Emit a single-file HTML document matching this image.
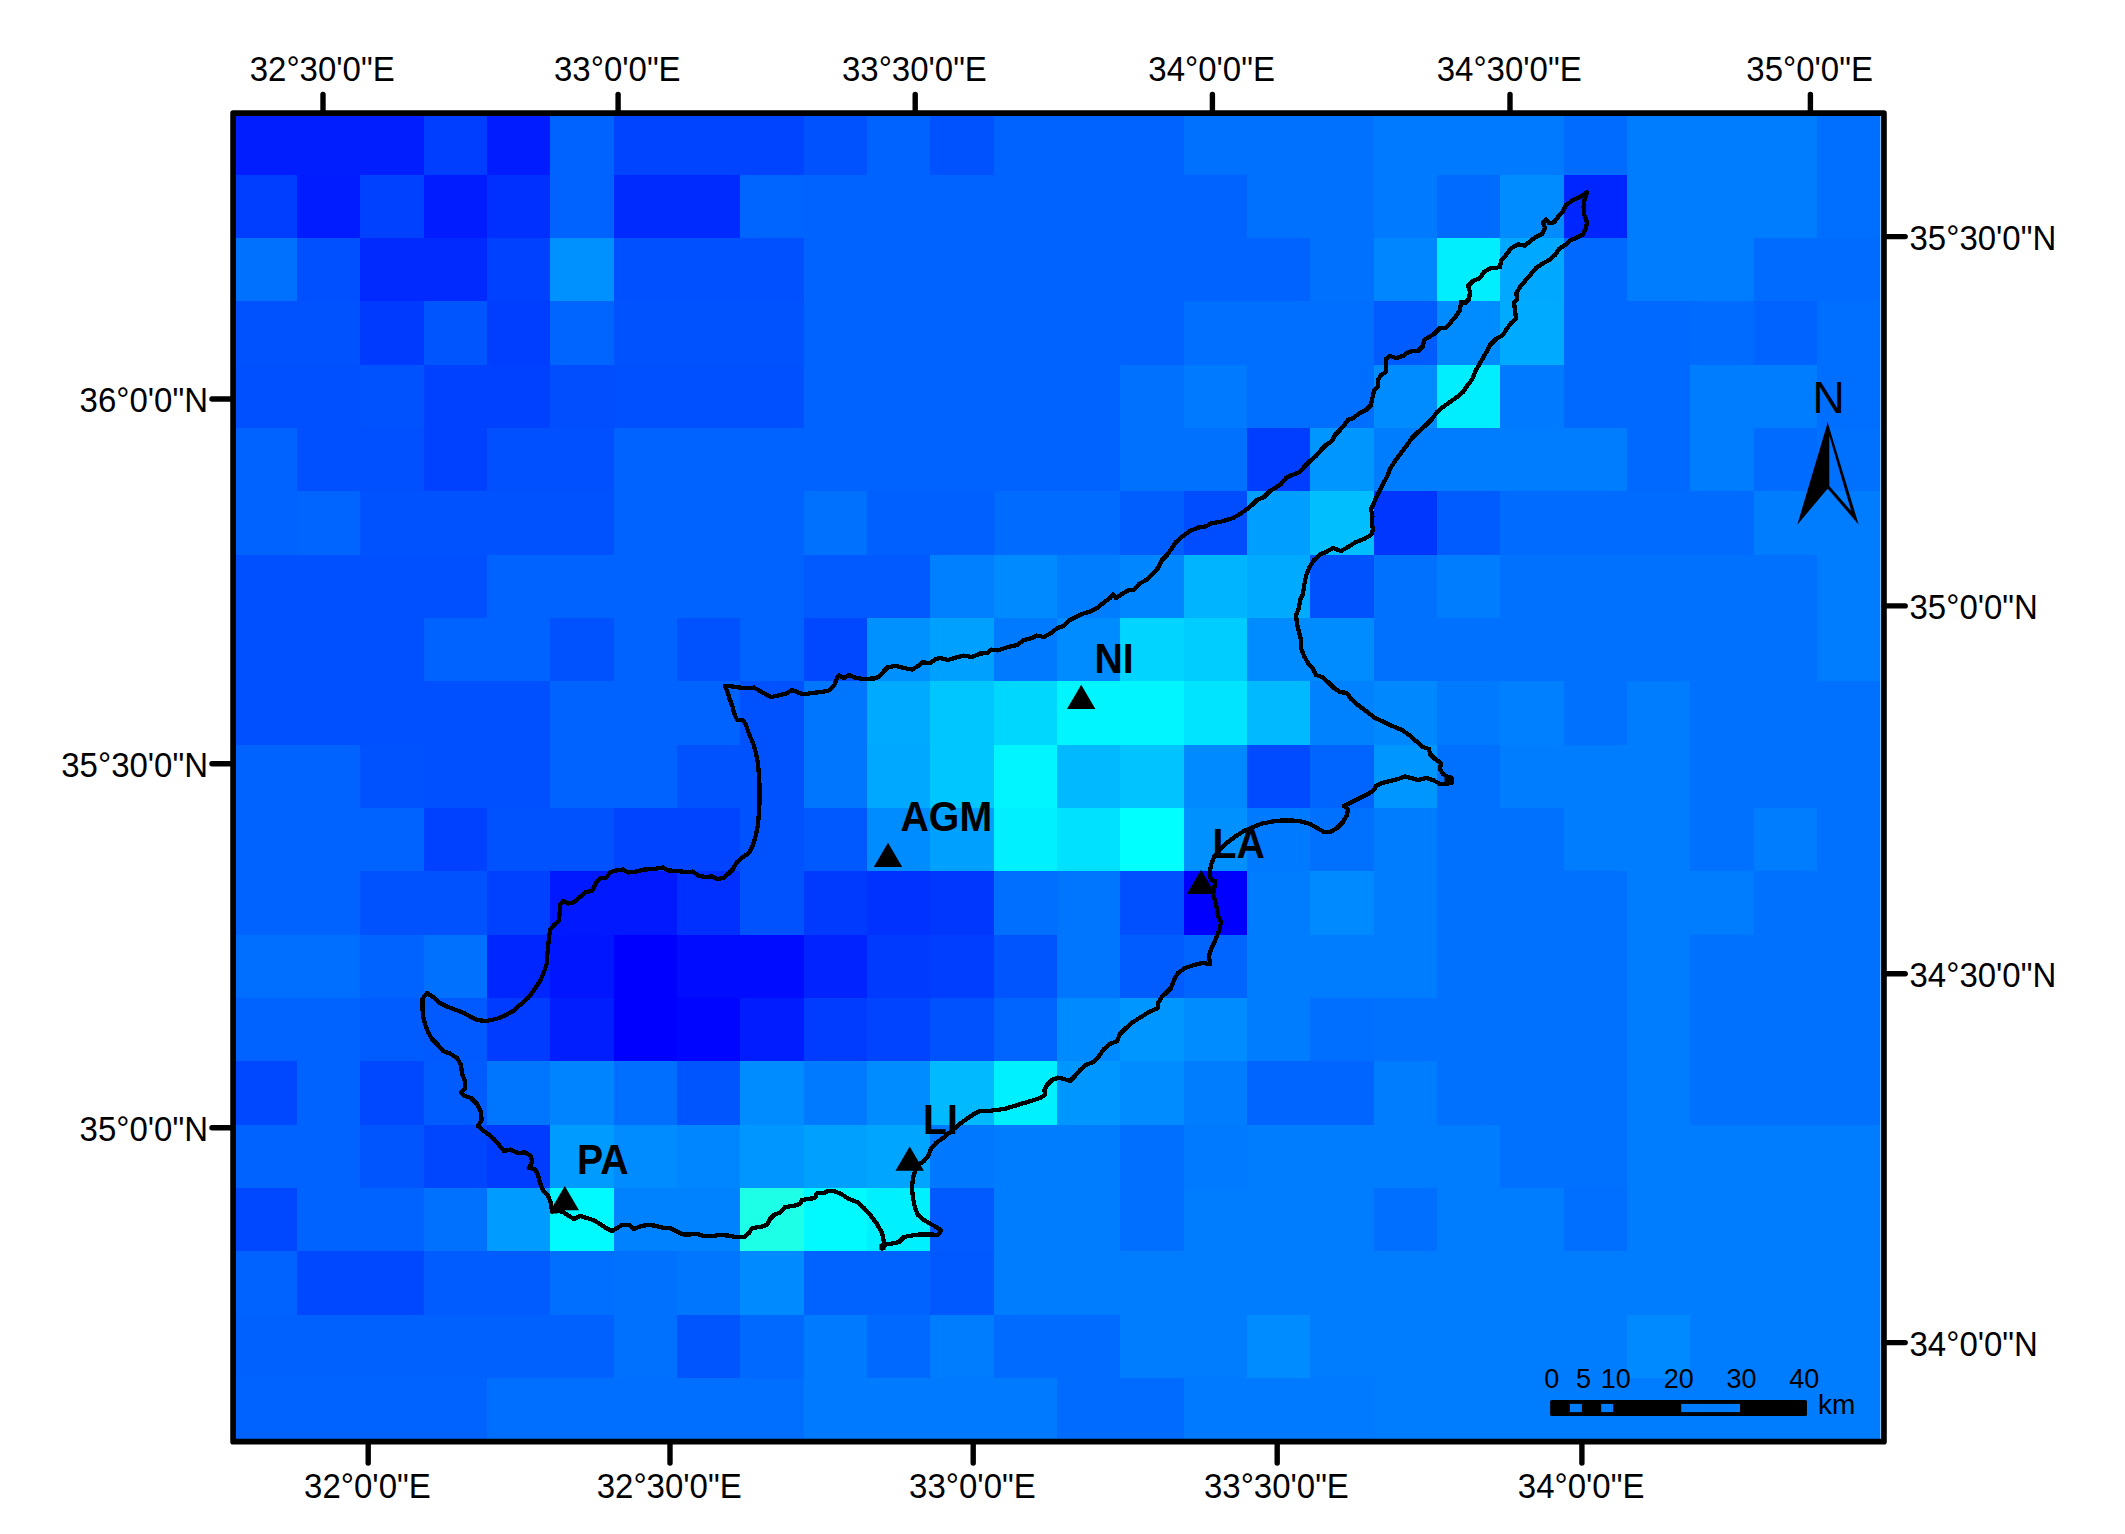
<!DOCTYPE html><html><head><meta charset="utf-8"><title>Map</title>
<style>html,body{margin:0;padding:0;background:#fff}body{width:2125px;height:1534px;overflow:hidden}svg{display:block}text{font-family:"Liberation Sans",sans-serif;fill:#000}.b{font-weight:bold}</style></head><body>
<svg width="2125" height="1534" viewBox="0 0 2125 1534">
<rect width="2125" height="1534" fill="#fff"/>
<g shape-rendering="crispEdges">
<rect x="233.60" y="111.40" width="190.60" height="63.93" fill="#001eff"/>
<rect x="423.60" y="111.40" width="63.93" height="63.93" fill="#003eff"/>
<rect x="486.93" y="111.40" width="63.93" height="63.93" fill="#001cff"/>
<rect x="550.26" y="111.40" width="63.93" height="63.93" fill="#0062ff"/>
<rect x="613.60" y="111.40" width="190.60" height="63.93" fill="#0044ff"/>
<rect x="803.60" y="111.40" width="63.93" height="63.93" fill="#0052ff"/>
<rect x="866.93" y="111.40" width="63.93" height="63.93" fill="#0062ff"/>
<rect x="930.26" y="111.40" width="63.93" height="63.93" fill="#0052ff"/>
<rect x="993.60" y="111.40" width="190.60" height="63.93" fill="#0062ff"/>
<rect x="1183.60" y="111.40" width="190.60" height="63.93" fill="#0070ff"/>
<rect x="1373.59" y="111.40" width="190.60" height="63.93" fill="#007aff"/>
<rect x="1563.59" y="111.40" width="63.93" height="63.93" fill="#006cff"/>
<rect x="1626.93" y="111.40" width="190.60" height="63.93" fill="#007dff"/>
<rect x="1816.92" y="111.40" width="63.93" height="63.93" fill="#006eff"/>
<rect x="233.60" y="174.73" width="63.93" height="63.93" fill="#003eff"/>
<rect x="296.93" y="174.73" width="63.93" height="63.93" fill="#001cff"/>
<rect x="360.27" y="174.73" width="63.93" height="63.93" fill="#0041ff"/>
<rect x="423.60" y="174.73" width="63.93" height="63.93" fill="#001cff"/>
<rect x="486.93" y="174.73" width="63.93" height="63.93" fill="#0030ff"/>
<rect x="550.26" y="174.73" width="63.93" height="63.93" fill="#0062ff"/>
<rect x="613.60" y="174.73" width="127.27" height="63.93" fill="#002bff"/>
<rect x="740.26" y="174.73" width="63.93" height="63.93" fill="#0064ff"/>
<rect x="803.60" y="174.73" width="443.93" height="63.93" fill="#0062ff"/>
<rect x="1246.93" y="174.73" width="127.27" height="63.93" fill="#0070ff"/>
<rect x="1373.59" y="174.73" width="63.93" height="63.93" fill="#007aff"/>
<rect x="1436.93" y="174.73" width="63.93" height="63.93" fill="#006cff"/>
<rect x="1500.26" y="174.73" width="63.93" height="63.93" fill="#008cff"/>
<rect x="1563.59" y="174.73" width="63.93" height="63.93" fill="#0026ff"/>
<rect x="1626.93" y="174.73" width="190.60" height="63.93" fill="#007dff"/>
<rect x="1816.92" y="174.73" width="63.93" height="63.93" fill="#006eff"/>
<rect x="233.60" y="238.07" width="63.93" height="63.93" fill="#0070ff"/>
<rect x="296.93" y="238.07" width="63.93" height="63.93" fill="#0050ff"/>
<rect x="360.27" y="238.07" width="127.27" height="63.93" fill="#002aff"/>
<rect x="486.93" y="238.07" width="63.93" height="63.93" fill="#0041ff"/>
<rect x="550.26" y="238.07" width="63.93" height="63.93" fill="#0091ff"/>
<rect x="613.60" y="238.07" width="190.60" height="63.93" fill="#0050ff"/>
<rect x="803.60" y="238.07" width="507.26" height="63.93" fill="#0062ff"/>
<rect x="1310.26" y="238.07" width="63.93" height="63.93" fill="#0070ff"/>
<rect x="1373.59" y="238.07" width="63.93" height="63.93" fill="#0087ff"/>
<rect x="1436.93" y="238.07" width="63.93" height="63.93" fill="#00eeff"/>
<rect x="1500.26" y="238.07" width="63.93" height="63.93" fill="#00a8ff"/>
<rect x="1563.59" y="238.07" width="63.93" height="63.93" fill="#0069ff"/>
<rect x="1626.93" y="238.07" width="127.27" height="63.93" fill="#007dff"/>
<rect x="1753.59" y="238.07" width="127.27" height="63.93" fill="#006cff"/>
<rect x="233.60" y="301.40" width="127.27" height="63.93" fill="#0052ff"/>
<rect x="360.27" y="301.40" width="63.93" height="63.93" fill="#003aff"/>
<rect x="423.60" y="301.40" width="63.93" height="63.93" fill="#0055ff"/>
<rect x="486.93" y="301.40" width="63.93" height="63.93" fill="#003eff"/>
<rect x="550.26" y="301.40" width="63.93" height="63.93" fill="#0064ff"/>
<rect x="613.60" y="301.40" width="190.60" height="63.93" fill="#0052ff"/>
<rect x="803.60" y="301.40" width="380.60" height="63.93" fill="#0062ff"/>
<rect x="1183.60" y="301.40" width="190.60" height="63.93" fill="#006eff"/>
<rect x="1373.59" y="301.40" width="63.93" height="63.93" fill="#005cff"/>
<rect x="1436.93" y="301.40" width="63.93" height="63.93" fill="#008cff"/>
<rect x="1500.26" y="301.40" width="63.93" height="63.93" fill="#00aaff"/>
<rect x="1563.59" y="301.40" width="127.27" height="63.93" fill="#0069ff"/>
<rect x="1690.26" y="301.40" width="63.93" height="63.93" fill="#006cff"/>
<rect x="1753.59" y="301.40" width="63.93" height="63.93" fill="#0062ff"/>
<rect x="1816.92" y="301.40" width="63.93" height="63.93" fill="#006eff"/>
<rect x="233.60" y="364.73" width="127.27" height="63.93" fill="#0050ff"/>
<rect x="360.27" y="364.73" width="63.93" height="63.93" fill="#0052ff"/>
<rect x="423.60" y="364.73" width="127.27" height="63.93" fill="#0041ff"/>
<rect x="550.26" y="364.73" width="63.93" height="63.93" fill="#004eff"/>
<rect x="613.60" y="364.73" width="190.60" height="63.93" fill="#0050ff"/>
<rect x="803.60" y="364.73" width="317.26" height="63.93" fill="#0062ff"/>
<rect x="1120.26" y="364.73" width="63.93" height="63.93" fill="#0070ff"/>
<rect x="1183.60" y="364.73" width="63.93" height="63.93" fill="#007aff"/>
<rect x="1246.93" y="364.73" width="127.27" height="63.93" fill="#006eff"/>
<rect x="1373.59" y="364.73" width="63.93" height="63.93" fill="#008cff"/>
<rect x="1436.93" y="364.73" width="63.93" height="63.93" fill="#00eeff"/>
<rect x="1500.26" y="364.73" width="63.93" height="63.93" fill="#007aff"/>
<rect x="1563.59" y="364.73" width="127.27" height="63.93" fill="#0069ff"/>
<rect x="1690.26" y="364.73" width="127.27" height="63.93" fill="#007dff"/>
<rect x="1816.92" y="364.73" width="63.93" height="63.93" fill="#006eff"/>
<rect x="233.60" y="428.06" width="63.93" height="63.93" fill="#0062ff"/>
<rect x="296.93" y="428.06" width="127.27" height="63.93" fill="#0050ff"/>
<rect x="423.60" y="428.06" width="63.93" height="63.93" fill="#0041ff"/>
<rect x="486.93" y="428.06" width="127.27" height="63.93" fill="#0050ff"/>
<rect x="613.60" y="428.06" width="507.26" height="63.93" fill="#0062ff"/>
<rect x="1120.26" y="428.06" width="127.27" height="63.93" fill="#0070ff"/>
<rect x="1246.93" y="428.06" width="63.93" height="63.93" fill="#003eff"/>
<rect x="1310.26" y="428.06" width="63.93" height="63.93" fill="#0096ff"/>
<rect x="1373.59" y="428.06" width="253.93" height="63.93" fill="#007dff"/>
<rect x="1626.93" y="428.06" width="63.93" height="63.93" fill="#0069ff"/>
<rect x="1690.26" y="428.06" width="63.93" height="63.93" fill="#007dff"/>
<rect x="1753.59" y="428.06" width="63.93" height="63.93" fill="#006cff"/>
<rect x="1816.92" y="428.06" width="63.93" height="63.93" fill="#0070ff"/>
<rect x="233.60" y="491.40" width="63.93" height="63.93" fill="#0062ff"/>
<rect x="296.93" y="491.40" width="63.93" height="63.93" fill="#0064ff"/>
<rect x="360.27" y="491.40" width="253.93" height="63.93" fill="#0052ff"/>
<rect x="613.60" y="491.40" width="190.60" height="63.93" fill="#0062ff"/>
<rect x="803.60" y="491.40" width="63.93" height="63.93" fill="#0070ff"/>
<rect x="866.93" y="491.40" width="127.27" height="63.93" fill="#005fff"/>
<rect x="993.60" y="491.40" width="127.27" height="63.93" fill="#006cff"/>
<rect x="1120.26" y="491.40" width="63.93" height="63.93" fill="#005eff"/>
<rect x="1183.60" y="491.40" width="63.93" height="63.93" fill="#004cff"/>
<rect x="1246.93" y="491.40" width="63.93" height="63.93" fill="#009eff"/>
<rect x="1310.26" y="491.40" width="63.93" height="63.93" fill="#00beff"/>
<rect x="1373.59" y="491.40" width="63.93" height="63.93" fill="#0037ff"/>
<rect x="1436.93" y="491.40" width="63.93" height="63.93" fill="#005cff"/>
<rect x="1500.26" y="491.40" width="253.93" height="63.93" fill="#006cff"/>
<rect x="1753.59" y="491.40" width="127.27" height="63.93" fill="#007dff"/>
<rect x="233.60" y="554.73" width="253.93" height="63.93" fill="#0050ff"/>
<rect x="486.93" y="554.73" width="317.26" height="63.93" fill="#0062ff"/>
<rect x="803.60" y="554.73" width="127.27" height="63.93" fill="#005aff"/>
<rect x="930.26" y="554.73" width="63.93" height="63.93" fill="#0080ff"/>
<rect x="993.60" y="554.73" width="63.93" height="63.93" fill="#008aff"/>
<rect x="1056.93" y="554.73" width="63.93" height="63.93" fill="#007dff"/>
<rect x="1120.26" y="554.73" width="63.93" height="63.93" fill="#0087ff"/>
<rect x="1183.60" y="554.73" width="63.93" height="63.93" fill="#00b4ff"/>
<rect x="1246.93" y="554.73" width="63.93" height="63.93" fill="#00aaff"/>
<rect x="1310.26" y="554.73" width="63.93" height="63.93" fill="#0052ff"/>
<rect x="1373.59" y="554.73" width="63.93" height="63.93" fill="#0070ff"/>
<rect x="1436.93" y="554.73" width="63.93" height="63.93" fill="#007dff"/>
<rect x="1500.26" y="554.73" width="317.26" height="63.93" fill="#0070ff"/>
<rect x="1816.92" y="554.73" width="63.93" height="63.93" fill="#007dff"/>
<rect x="233.60" y="618.06" width="190.60" height="63.93" fill="#0050ff"/>
<rect x="423.60" y="618.06" width="127.27" height="63.93" fill="#0062ff"/>
<rect x="550.26" y="618.06" width="63.93" height="63.93" fill="#0052ff"/>
<rect x="613.60" y="618.06" width="63.93" height="63.93" fill="#0062ff"/>
<rect x="676.93" y="618.06" width="63.93" height="63.93" fill="#0052ff"/>
<rect x="740.26" y="618.06" width="63.93" height="63.93" fill="#0062ff"/>
<rect x="803.60" y="618.06" width="63.93" height="63.93" fill="#0048ff"/>
<rect x="866.93" y="618.06" width="63.93" height="63.93" fill="#0091ff"/>
<rect x="930.26" y="618.06" width="63.93" height="63.93" fill="#00a0ff"/>
<rect x="993.60" y="618.06" width="63.93" height="63.93" fill="#007aff"/>
<rect x="1056.93" y="618.06" width="63.93" height="63.93" fill="#008cff"/>
<rect x="1120.26" y="618.06" width="63.93" height="63.93" fill="#00d4ff"/>
<rect x="1183.60" y="618.06" width="63.93" height="63.93" fill="#00cdff"/>
<rect x="1246.93" y="618.06" width="127.27" height="63.93" fill="#008cff"/>
<rect x="1373.59" y="618.06" width="443.93" height="63.93" fill="#0070ff"/>
<rect x="1816.92" y="618.06" width="63.93" height="63.93" fill="#007dff"/>
<rect x="233.60" y="681.40" width="317.26" height="63.93" fill="#0050ff"/>
<rect x="550.26" y="681.40" width="190.60" height="63.93" fill="#0062ff"/>
<rect x="740.26" y="681.40" width="63.93" height="63.93" fill="#0052ff"/>
<rect x="803.60" y="681.40" width="63.93" height="63.93" fill="#0076ff"/>
<rect x="866.93" y="681.40" width="63.93" height="63.93" fill="#00aaff"/>
<rect x="930.26" y="681.40" width="63.93" height="63.93" fill="#00c6ff"/>
<rect x="993.60" y="681.40" width="63.93" height="63.93" fill="#00d7ff"/>
<rect x="1056.93" y="681.40" width="127.27" height="63.93" fill="#00f5ff"/>
<rect x="1183.60" y="681.40" width="63.93" height="63.93" fill="#00e4ff"/>
<rect x="1246.93" y="681.40" width="63.93" height="63.93" fill="#00b9ff"/>
<rect x="1310.26" y="681.40" width="63.93" height="63.93" fill="#0082ff"/>
<rect x="1373.59" y="681.40" width="63.93" height="63.93" fill="#0088ff"/>
<rect x="1436.93" y="681.40" width="63.93" height="63.93" fill="#007aff"/>
<rect x="1500.26" y="681.40" width="63.93" height="63.93" fill="#0080ff"/>
<rect x="1563.59" y="681.40" width="63.93" height="63.93" fill="#0070ff"/>
<rect x="1626.93" y="681.40" width="63.93" height="63.93" fill="#007dff"/>
<rect x="1690.26" y="681.40" width="190.60" height="63.93" fill="#0070ff"/>
<rect x="233.60" y="744.73" width="127.27" height="63.93" fill="#0062ff"/>
<rect x="360.27" y="744.73" width="63.93" height="63.93" fill="#0052ff"/>
<rect x="423.60" y="744.73" width="127.27" height="63.93" fill="#0050ff"/>
<rect x="550.26" y="744.73" width="127.27" height="63.93" fill="#0062ff"/>
<rect x="676.93" y="744.73" width="127.27" height="63.93" fill="#0052ff"/>
<rect x="803.60" y="744.73" width="63.93" height="63.93" fill="#0076ff"/>
<rect x="866.93" y="744.73" width="63.93" height="63.93" fill="#00a8ff"/>
<rect x="930.26" y="744.73" width="63.93" height="63.93" fill="#00c6ff"/>
<rect x="993.60" y="744.73" width="63.93" height="63.93" fill="#00f5ff"/>
<rect x="1056.93" y="744.73" width="63.93" height="63.93" fill="#00b9ff"/>
<rect x="1120.26" y="744.73" width="63.93" height="63.93" fill="#00c3ff"/>
<rect x="1183.60" y="744.73" width="63.93" height="63.93" fill="#008aff"/>
<rect x="1246.93" y="744.73" width="63.93" height="63.93" fill="#004bff"/>
<rect x="1310.26" y="744.73" width="63.93" height="63.93" fill="#0064ff"/>
<rect x="1373.59" y="744.73" width="63.93" height="63.93" fill="#0096ff"/>
<rect x="1436.93" y="744.73" width="63.93" height="63.93" fill="#0070ff"/>
<rect x="1500.26" y="744.73" width="190.60" height="63.93" fill="#007dff"/>
<rect x="1690.26" y="744.73" width="190.60" height="63.93" fill="#0070ff"/>
<rect x="233.60" y="808.06" width="190.60" height="63.93" fill="#0062ff"/>
<rect x="423.60" y="808.06" width="63.93" height="63.93" fill="#0041ff"/>
<rect x="486.93" y="808.06" width="127.27" height="63.93" fill="#0052ff"/>
<rect x="613.60" y="808.06" width="127.27" height="63.93" fill="#0044ff"/>
<rect x="740.26" y="808.06" width="63.93" height="63.93" fill="#0052ff"/>
<rect x="803.60" y="808.06" width="63.93" height="63.93" fill="#0058ff"/>
<rect x="866.93" y="808.06" width="63.93" height="63.93" fill="#008cff"/>
<rect x="930.26" y="808.06" width="63.93" height="63.93" fill="#00a0ff"/>
<rect x="993.60" y="808.06" width="63.93" height="63.93" fill="#00f0ff"/>
<rect x="1056.93" y="808.06" width="63.93" height="63.93" fill="#00e1ff"/>
<rect x="1120.26" y="808.06" width="63.93" height="63.93" fill="#00ffff"/>
<rect x="1183.60" y="808.06" width="63.93" height="63.93" fill="#0091ff"/>
<rect x="1246.93" y="808.06" width="63.93" height="63.93" fill="#007aff"/>
<rect x="1310.26" y="808.06" width="63.93" height="63.93" fill="#0070ff"/>
<rect x="1373.59" y="808.06" width="63.93" height="63.93" fill="#007dff"/>
<rect x="1436.93" y="808.06" width="127.27" height="63.93" fill="#0070ff"/>
<rect x="1563.59" y="808.06" width="127.27" height="63.93" fill="#007dff"/>
<rect x="1690.26" y="808.06" width="63.93" height="63.93" fill="#0070ff"/>
<rect x="1753.59" y="808.06" width="63.93" height="63.93" fill="#007dff"/>
<rect x="1816.92" y="808.06" width="63.93" height="63.93" fill="#0070ff"/>
<rect x="233.60" y="871.40" width="127.27" height="63.93" fill="#0062ff"/>
<rect x="360.27" y="871.40" width="127.27" height="63.93" fill="#0052ff"/>
<rect x="486.93" y="871.40" width="63.93" height="63.93" fill="#0041ff"/>
<rect x="550.26" y="871.40" width="127.27" height="63.93" fill="#0019ff"/>
<rect x="676.93" y="871.40" width="63.93" height="63.93" fill="#0030ff"/>
<rect x="740.26" y="871.40" width="63.93" height="63.93" fill="#0052ff"/>
<rect x="803.60" y="871.40" width="63.93" height="63.93" fill="#003aff"/>
<rect x="866.93" y="871.40" width="63.93" height="63.93" fill="#0032ff"/>
<rect x="930.26" y="871.40" width="63.93" height="63.93" fill="#0037ff"/>
<rect x="993.60" y="871.40" width="63.93" height="63.93" fill="#006eff"/>
<rect x="1056.93" y="871.40" width="63.93" height="63.93" fill="#0076ff"/>
<rect x="1120.26" y="871.40" width="63.93" height="63.93" fill="#0050ff"/>
<rect x="1183.60" y="871.40" width="63.93" height="63.93" fill="#0000ff"/>
<rect x="1246.93" y="871.40" width="63.93" height="63.93" fill="#007dff"/>
<rect x="1310.26" y="871.40" width="63.93" height="63.93" fill="#008aff"/>
<rect x="1373.59" y="871.40" width="63.93" height="63.93" fill="#007dff"/>
<rect x="1436.93" y="871.40" width="190.60" height="63.93" fill="#0070ff"/>
<rect x="1626.93" y="871.40" width="127.27" height="63.93" fill="#007dff"/>
<rect x="1753.59" y="871.40" width="127.27" height="63.93" fill="#0070ff"/>
<rect x="233.60" y="934.73" width="127.27" height="63.93" fill="#006eff"/>
<rect x="360.27" y="934.73" width="63.93" height="63.93" fill="#0062ff"/>
<rect x="423.60" y="934.73" width="63.93" height="63.93" fill="#0070ff"/>
<rect x="486.93" y="934.73" width="63.93" height="63.93" fill="#0026ff"/>
<rect x="550.26" y="934.73" width="63.93" height="63.93" fill="#0016ff"/>
<rect x="613.60" y="934.73" width="63.93" height="63.93" fill="#0000ff"/>
<rect x="676.93" y="934.73" width="127.27" height="63.93" fill="#000cff"/>
<rect x="803.60" y="934.73" width="63.93" height="63.93" fill="#0023ff"/>
<rect x="866.93" y="934.73" width="63.93" height="63.93" fill="#003aff"/>
<rect x="930.26" y="934.73" width="63.93" height="63.93" fill="#003eff"/>
<rect x="993.60" y="934.73" width="63.93" height="63.93" fill="#0055ff"/>
<rect x="1056.93" y="934.73" width="63.93" height="63.93" fill="#0076ff"/>
<rect x="1120.26" y="934.73" width="63.93" height="63.93" fill="#005cff"/>
<rect x="1183.60" y="934.73" width="63.93" height="63.93" fill="#0064ff"/>
<rect x="1246.93" y="934.73" width="190.60" height="63.93" fill="#007dff"/>
<rect x="1436.93" y="934.73" width="190.60" height="63.93" fill="#0070ff"/>
<rect x="1626.93" y="934.73" width="63.93" height="63.93" fill="#007dff"/>
<rect x="1690.26" y="934.73" width="190.60" height="63.93" fill="#0070ff"/>
<rect x="233.60" y="998.06" width="127.27" height="63.93" fill="#0062ff"/>
<rect x="360.27" y="998.06" width="63.93" height="63.93" fill="#005cff"/>
<rect x="423.60" y="998.06" width="63.93" height="63.93" fill="#005aff"/>
<rect x="486.93" y="998.06" width="63.93" height="63.93" fill="#003cff"/>
<rect x="550.26" y="998.06" width="63.93" height="63.93" fill="#001eff"/>
<rect x="613.60" y="998.06" width="63.93" height="63.93" fill="#0000ff"/>
<rect x="676.93" y="998.06" width="63.93" height="63.93" fill="#0005ff"/>
<rect x="740.26" y="998.06" width="63.93" height="63.93" fill="#001cff"/>
<rect x="803.60" y="998.06" width="63.93" height="63.93" fill="#003cff"/>
<rect x="866.93" y="998.06" width="63.93" height="63.93" fill="#0044ff"/>
<rect x="930.26" y="998.06" width="63.93" height="63.93" fill="#0052ff"/>
<rect x="993.60" y="998.06" width="63.93" height="63.93" fill="#0064ff"/>
<rect x="1056.93" y="998.06" width="63.93" height="63.93" fill="#008aff"/>
<rect x="1120.26" y="998.06" width="63.93" height="63.93" fill="#0096ff"/>
<rect x="1183.60" y="998.06" width="63.93" height="63.93" fill="#008cff"/>
<rect x="1246.93" y="998.06" width="63.93" height="63.93" fill="#007dff"/>
<rect x="1310.26" y="998.06" width="63.93" height="63.93" fill="#006eff"/>
<rect x="1373.59" y="998.06" width="253.93" height="63.93" fill="#0070ff"/>
<rect x="1626.93" y="998.06" width="63.93" height="63.93" fill="#007dff"/>
<rect x="1690.26" y="998.06" width="190.60" height="63.93" fill="#0070ff"/>
<rect x="233.60" y="1061.39" width="63.93" height="63.93" fill="#0048ff"/>
<rect x="296.93" y="1061.39" width="63.93" height="63.93" fill="#0062ff"/>
<rect x="360.27" y="1061.39" width="63.93" height="63.93" fill="#0048ff"/>
<rect x="423.60" y="1061.39" width="63.93" height="63.93" fill="#005cff"/>
<rect x="486.93" y="1061.39" width="63.93" height="63.93" fill="#0076ff"/>
<rect x="550.26" y="1061.39" width="63.93" height="63.93" fill="#0084ff"/>
<rect x="613.60" y="1061.39" width="63.93" height="63.93" fill="#006eff"/>
<rect x="676.93" y="1061.39" width="63.93" height="63.93" fill="#0055ff"/>
<rect x="740.26" y="1061.39" width="63.93" height="63.93" fill="#008cff"/>
<rect x="803.60" y="1061.39" width="63.93" height="63.93" fill="#007aff"/>
<rect x="866.93" y="1061.39" width="63.93" height="63.93" fill="#008cff"/>
<rect x="930.26" y="1061.39" width="63.93" height="63.93" fill="#00b9ff"/>
<rect x="993.60" y="1061.39" width="63.93" height="63.93" fill="#00f0ff"/>
<rect x="1056.93" y="1061.39" width="63.93" height="63.93" fill="#0096ff"/>
<rect x="1120.26" y="1061.39" width="63.93" height="63.93" fill="#008cff"/>
<rect x="1183.60" y="1061.39" width="63.93" height="63.93" fill="#007dff"/>
<rect x="1246.93" y="1061.39" width="127.27" height="63.93" fill="#0064ff"/>
<rect x="1373.59" y="1061.39" width="63.93" height="63.93" fill="#007dff"/>
<rect x="1436.93" y="1061.39" width="190.60" height="63.93" fill="#0070ff"/>
<rect x="1626.93" y="1061.39" width="63.93" height="63.93" fill="#007dff"/>
<rect x="1690.26" y="1061.39" width="190.60" height="63.93" fill="#0070ff"/>
<rect x="233.60" y="1124.73" width="127.27" height="63.93" fill="#0062ff"/>
<rect x="360.27" y="1124.73" width="63.93" height="63.93" fill="#0055ff"/>
<rect x="423.60" y="1124.73" width="63.93" height="63.93" fill="#0046ff"/>
<rect x="486.93" y="1124.73" width="63.93" height="63.93" fill="#003cff"/>
<rect x="550.26" y="1124.73" width="63.93" height="63.93" fill="#009bff"/>
<rect x="613.60" y="1124.73" width="63.93" height="63.93" fill="#008cff"/>
<rect x="676.93" y="1124.73" width="63.93" height="63.93" fill="#0087ff"/>
<rect x="740.26" y="1124.73" width="63.93" height="63.93" fill="#0096ff"/>
<rect x="803.60" y="1124.73" width="63.93" height="63.93" fill="#00a0ff"/>
<rect x="866.93" y="1124.73" width="63.93" height="63.93" fill="#00a5ff"/>
<rect x="930.26" y="1124.73" width="63.93" height="63.93" fill="#0078ff"/>
<rect x="993.60" y="1124.73" width="127.27" height="63.93" fill="#007dff"/>
<rect x="1120.26" y="1124.73" width="63.93" height="63.93" fill="#006eff"/>
<rect x="1183.60" y="1124.73" width="63.93" height="63.93" fill="#007aff"/>
<rect x="1246.93" y="1124.73" width="253.93" height="63.93" fill="#007dff"/>
<rect x="1500.26" y="1124.73" width="127.27" height="63.93" fill="#0070ff"/>
<rect x="1626.93" y="1124.73" width="253.93" height="63.93" fill="#007dff"/>
<rect x="233.60" y="1188.06" width="63.93" height="63.93" fill="#0048ff"/>
<rect x="296.93" y="1188.06" width="127.27" height="63.93" fill="#0062ff"/>
<rect x="423.60" y="1188.06" width="63.93" height="63.93" fill="#0070ff"/>
<rect x="486.93" y="1188.06" width="63.93" height="63.93" fill="#009bff"/>
<rect x="550.26" y="1188.06" width="63.93" height="63.93" fill="#00faff"/>
<rect x="613.60" y="1188.06" width="127.27" height="63.93" fill="#0082ff"/>
<rect x="740.26" y="1188.06" width="63.93" height="63.93" fill="#1effe7"/>
<rect x="803.60" y="1188.06" width="63.93" height="63.93" fill="#00faff"/>
<rect x="866.93" y="1188.06" width="63.93" height="63.93" fill="#00f0ff"/>
<rect x="930.26" y="1188.06" width="63.93" height="63.93" fill="#005aff"/>
<rect x="993.60" y="1188.06" width="127.27" height="63.93" fill="#007dff"/>
<rect x="1120.26" y="1188.06" width="63.93" height="63.93" fill="#006eff"/>
<rect x="1183.60" y="1188.06" width="190.60" height="63.93" fill="#007dff"/>
<rect x="1373.59" y="1188.06" width="63.93" height="63.93" fill="#006eff"/>
<rect x="1436.93" y="1188.06" width="127.27" height="63.93" fill="#007dff"/>
<rect x="1563.59" y="1188.06" width="63.93" height="63.93" fill="#006eff"/>
<rect x="1626.93" y="1188.06" width="253.93" height="63.93" fill="#007dff"/>
<rect x="233.60" y="1251.39" width="63.93" height="63.93" fill="#0062ff"/>
<rect x="296.93" y="1251.39" width="127.27" height="63.93" fill="#0048ff"/>
<rect x="423.60" y="1251.39" width="127.27" height="63.93" fill="#005cff"/>
<rect x="550.26" y="1251.39" width="63.93" height="63.93" fill="#006eff"/>
<rect x="613.60" y="1251.39" width="63.93" height="63.93" fill="#0070ff"/>
<rect x="676.93" y="1251.39" width="63.93" height="63.93" fill="#0076ff"/>
<rect x="740.26" y="1251.39" width="63.93" height="63.93" fill="#008aff"/>
<rect x="803.60" y="1251.39" width="127.27" height="63.93" fill="#0062ff"/>
<rect x="930.26" y="1251.39" width="63.93" height="63.93" fill="#0058ff"/>
<rect x="993.60" y="1251.39" width="887.26" height="63.93" fill="#007dff"/>
<rect x="233.60" y="1314.73" width="380.60" height="63.93" fill="#0061ff"/>
<rect x="613.60" y="1314.73" width="63.93" height="63.93" fill="#0070ff"/>
<rect x="676.93" y="1314.73" width="63.93" height="63.93" fill="#0055ff"/>
<rect x="740.26" y="1314.73" width="63.93" height="63.93" fill="#0069ff"/>
<rect x="803.60" y="1314.73" width="63.93" height="63.93" fill="#007aff"/>
<rect x="866.93" y="1314.73" width="63.93" height="63.93" fill="#0069ff"/>
<rect x="930.26" y="1314.73" width="63.93" height="63.93" fill="#007dff"/>
<rect x="993.60" y="1314.73" width="127.27" height="63.93" fill="#006cff"/>
<rect x="1120.26" y="1314.73" width="127.27" height="63.93" fill="#007dff"/>
<rect x="1246.93" y="1314.73" width="63.93" height="63.93" fill="#008cff"/>
<rect x="1310.26" y="1314.73" width="317.26" height="63.93" fill="#007dff"/>
<rect x="1626.93" y="1314.73" width="63.93" height="63.93" fill="#008aff"/>
<rect x="1690.26" y="1314.73" width="190.60" height="63.93" fill="#007dff"/>
<rect x="233.60" y="1378.06" width="253.93" height="63.93" fill="#0062ff"/>
<rect x="486.93" y="1378.06" width="317.26" height="63.93" fill="#006eff"/>
<rect x="803.60" y="1378.06" width="253.93" height="63.93" fill="#007aff"/>
<rect x="1056.93" y="1378.06" width="127.27" height="63.93" fill="#006cff"/>
<rect x="1183.60" y="1378.06" width="190.60" height="63.93" fill="#007aff"/>
<rect x="1373.59" y="1378.06" width="507.26" height="63.93" fill="#007dff"/>
</g>
<rect x="1880.2" y="113" width="1" height="1328" fill="#9fd0ff"/>
<path d="M1587.0 192.4 L1584.4 200.0 L1583.6 207.0 L1584.4 215.0 L1587.0 222.4 L1585.6 229.0 L1583.0 234.4 L1577.0 237.6 L1570.0 240.4 L1565.0 245.0 L1559.0 249.0 L1555.0 255.0 L1549.0 260.0 L1542.0 264.0 L1536.0 268.0 L1531.0 274.0 L1525.0 281.0 L1520.0 287.0 L1516.4 293.0 L1517.0 299.0 L1514.0 303.0 L1515.0 310.0 L1516.0 319.0 L1511.0 323.0 L1506.0 330.0 L1503.0 335.0 L1496.0 339.0 L1490.0 345.0 L1487.0 351.0 L1483.0 358.0 L1479.0 365.0 L1475.0 372.0 L1472.4 379.0 L1467.0 386.0 L1463.0 392.0 L1457.0 397.0 L1450.0 402.0 L1443.0 407.0 L1437.0 412.0 L1432.0 419.0 L1425.0 426.0 L1418.0 432.0 L1412.0 438.0 L1407.0 445.0 L1401.0 453.0 L1395.0 461.0 L1390.0 469.0 L1387.0 476.8 L1384.0 482.0 L1380.0 490.0 L1376.0 498.0 L1373.0 505.0 L1371.0 509.0 L1372.4 516.0 L1372.0 524.0 L1373.0 530.0 L1371.0 535.0 L1364.0 539.0 L1356.0 542.0 L1348.0 547.0 L1341.0 551.0 L1333.0 548.0 L1326.0 552.0 L1320.0 554.4 L1314.0 560.0 L1309.0 568.0 L1306.0 576.0 L1304.0 586.0 L1303.0 594.0 L1300.0 600.0 L1299.0 608.0 L1296.0 615.0 L1297.0 624.0 L1299.0 632.0 L1301.0 640.0 L1301.0 648.0 L1304.0 656.0 L1308.0 663.0 L1313.0 669.0 L1316.0 675.0 L1322.0 677.0 L1328.0 682.0 L1334.0 688.0 L1340.0 692.0 L1347.0 693.0 L1351.0 699.0 L1358.0 705.0 L1366.0 711.0 L1375.0 718.0 L1384.0 722.0 L1394.0 726.8 L1402.0 730.0 L1409.0 735.0 L1416.0 741.0 L1423.0 747.0 L1429.0 749.0 L1430.0 754.0 L1435.0 759.0 L1441.0 763.0 L1440.0 769.0 L1443.0 774.0 L1447.0 776.4 L1451.6 778.0 L1451.6 783.0 L1447.0 783.6 L1440.0 784.0 L1433.0 780.0 L1426.0 778.0 L1418.0 780.0 L1411.0 778.0 L1405.0 776.4 L1398.0 779.0 L1390.0 781.0 L1382.0 783.0 L1376.0 786.0 L1374.0 790.0 L1368.0 794.0 L1360.0 798.0 L1352.0 802.0 L1344.0 806.0 L1348.0 809.0 L1347.0 815.0 L1343.0 822.0 L1337.0 828.0 L1331.0 831.6 L1324.0 832.0 L1317.0 828.0 L1310.0 824.0 L1302.0 821.6 L1292.0 820.4 L1282.0 820.4 L1272.0 821.6 L1262.0 823.6 L1253.0 827.0 L1244.0 831.0 L1236.0 836.0 L1228.0 842.0 L1220.0 849.0 L1214.0 857.0 L1211.0 865.0 L1209.6 874.0 L1211.0 880.0 L1215.0 881.0 L1214.4 888.0 L1213.0 894.0 L1215.0 901.0 L1217.0 909.0 L1218.0 916.0 L1221.0 922.0 L1219.6 929.0 L1217.0 936.0 L1214.0 943.0 L1211.0 949.0 L1209.0 956.0 L1210.0 964.0 L1202.0 963.0 L1194.0 965.0 L1185.0 968.0 L1178.0 973.0 L1174.0 980.0 L1171.0 988.0 L1165.0 994.0 L1162.0 996.8 L1158.0 1003.0 L1158.0 1008.0 L1149.0 1012.0 L1141.0 1017.0 L1133.0 1022.0 L1126.0 1028.0 L1120.0 1034.0 L1117.0 1041.0 L1110.0 1044.0 L1104.0 1049.0 L1099.0 1056.0 L1094.0 1061.6 L1086.0 1065.0 L1080.0 1070.0 L1075.0 1076.0 L1070.0 1081.0 L1064.0 1079.0 L1058.0 1077.6 L1052.0 1080.0 L1047.0 1085.0 L1044.4 1090.0 L1045.0 1095.0 L1040.0 1098.0 L1031.0 1101.0 L1022.0 1103.6 L1013.0 1106.4 L1004.0 1109.0 L996.0 1110.0 L988.0 1111.0 L980.0 1111.0 L974.0 1114.0 L968.0 1118.0 L961.0 1123.0 L955.0 1128.0 L949.0 1133.0 L943.0 1138.0 L936.0 1143.0 L931.0 1149.0 L928.0 1156.0 L924.0 1161.0 L918.0 1165.0 L915.0 1171.0 L913.0 1178.0 L912.0 1188.0 L913.0 1198.0 L915.0 1208.0 L918.0 1215.0 L924.0 1220.0 L930.0 1223.6 L936.0 1227.0 L941.0 1230.4 L938.0 1235.0 L930.0 1234.4 L920.0 1234.4 L911.0 1235.6 L904.0 1237.0 L899.0 1242.0 L892.0 1243.6 L886.0 1244.0 L882.0 1249.0 L884.0 1242.0 L882.0 1233.0 L877.0 1224.0 L871.0 1216.0 L864.0 1208.0 L857.0 1202.0 L849.0 1199.0 L841.0 1194.0 L834.0 1191.0 L828.0 1191.0 L824.0 1193.0 L817.0 1193.0 L815.0 1198.0 L808.0 1199.0 L802.0 1200.0 L800.0 1204.0 L793.0 1206.0 L785.0 1207.0 L781.0 1212.0 L774.0 1215.0 L770.0 1219.0 L767.0 1225.0 L760.0 1227.0 L752.0 1228.0 L749.0 1233.0 L744.0 1237.0 L736.0 1237.0 L728.0 1235.6 L720.0 1235.0 L712.0 1236.0 L704.0 1236.0 L697.0 1234.0 L690.0 1234.4 L683.0 1234.4 L677.0 1231.6 L670.0 1228.0 L662.0 1227.6 L655.0 1225.6 L648.0 1225.0 L641.0 1226.0 L634.0 1229.0 L629.0 1225.0 L622.0 1225.0 L617.0 1228.0 L612.0 1231.0 L606.0 1228.0 L600.0 1224.0 L594.0 1220.4 L587.0 1218.0 L580.0 1216.0 L574.0 1219.0 L569.0 1216.0 L563.0 1212.0 L557.0 1210.4 L552.0 1211.6 L551.0 1203.0 L548.0 1196.0 L543.0 1190.0 L540.0 1183.0 L538.0 1175.0 L535.0 1169.0 L529.0 1168.0 L532.0 1162.0 L531.0 1156.0 L525.0 1152.4 L518.0 1153.0 L510.0 1149.6 L504.0 1151.0 L499.0 1145.0 L494.0 1139.0 L488.0 1134.0 L482.0 1129.6 L478.0 1126.0 L481.6 1120.0 L481.0 1112.0 L477.0 1104.0 L471.0 1098.0 L465.0 1096.0 L461.0 1092.4 L465.0 1088.0 L465.0 1081.0 L462.0 1074.0 L461.0 1065.0 L457.0 1058.0 L450.0 1053.6 L443.0 1051.0 L438.0 1045.0 L432.0 1039.0 L428.0 1032.0 L425.0 1024.0 L423.0 1016.0 L422.4 1007.0 L422.4 999.0 L427.0 993.0 L433.0 997.0 L440.0 1003.0 L448.0 1007.0 L456.0 1010.0 L464.0 1013.0 L471.0 1017.0 L477.0 1020.0 L486.0 1021.0 L496.0 1019.0 L504.0 1016.0 L513.0 1011.0 L520.0 1005.0 L528.0 998.0 L534.0 990.0 L540.0 981.0 L544.0 972.0 L547.0 963.0 L547.0 958.0 L548.0 948.0 L549.0 938.0 L550.0 930.0 L554.0 925.0 L559.0 921.0 L559.6 913.0 L560.0 905.0 L563.0 901.0 L568.0 903.6 L574.0 902.4 L580.0 897.0 L586.0 892.0 L592.0 891.0 L596.0 883.0 L600.0 878.0 L606.0 878.0 L610.0 872.4 L616.0 870.4 L623.0 869.6 L628.0 872.4 L636.0 871.6 L644.0 869.6 L654.0 869.0 L663.0 867.6 L668.0 870.4 L677.0 871.0 L686.0 872.0 L693.0 871.6 L699.0 876.0 L706.0 877.0 L712.0 876.4 L717.0 879.0 L723.0 878.0 L728.0 874.0 L733.0 869.0 L737.0 862.0 L743.0 857.0 L749.0 853.0 L753.0 845.0 L756.0 835.0 L758.0 824.0 L759.0 812.0 L759.6 800.0 L759.6 788.0 L759.0 776.0 L758.0 764.0 L756.0 753.0 L753.0 743.0 L749.0 734.0 L746.0 725.0 L743.0 720.0 L737.0 719.6 L734.0 713.0 L732.4 706.0 L729.6 699.0 L727.6 692.0 L725.0 686.0 L732.0 686.4 L740.0 687.6 L748.0 688.0 L754.0 687.6 L760.0 691.0 L766.0 694.4 L771.0 697.0 L778.0 695.6 L786.0 693.6 L792.0 690.0 L797.0 692.0 L803.0 694.4 L812.0 693.0 L822.0 692.0 L829.0 690.4 L834.0 686.0 L837.0 678.0 L839.0 675.6 L844.0 678.0 L849.0 675.0 L856.0 678.0 L864.0 679.0 L874.8 678.4 L880.0 676.0 L884.0 671.0 L888.0 667.0 L896.0 666.0 L904.0 668.0 L912.0 669.6 L918.0 666.0 L922.0 662.4 L930.0 663.0 L936.0 659.0 L940.0 658.0 L948.0 660.0 L956.0 657.6 L963.0 655.6 L972.0 657.0 L980.0 653.6 L987.0 653.0 L991.0 649.6 L998.0 650.4 L1008.0 647.0 L1017.0 645.0 L1024.0 640.0 L1032.0 638.0 L1037.0 635.6 L1044.0 637.0 L1051.0 633.0 L1057.0 628.4 L1064.0 625.6 L1070.0 620.0 L1076.0 617.0 L1083.0 613.6 L1090.0 611.6 L1097.0 608.0 L1104.0 602.4 L1110.0 598.0 L1113.0 594.4 L1116.0 598.0 L1122.0 594.0 L1128.0 590.4 L1134.0 589.6 L1139.0 584.0 L1146.0 580.0 L1152.0 574.4 L1158.0 568.0 L1162.0 560.0 L1167.0 555.0 L1172.0 548.0 L1176.0 542.0 L1183.0 536.0 L1190.0 531.0 L1198.0 527.6 L1206.0 526.4 L1212.0 523.0 L1220.0 522.0 L1233.0 518.0 L1240.0 514.0 L1247.0 509.0 L1252.0 505.0 L1257.0 500.0 L1264.0 497.0 L1270.0 491.0 L1275.0 488.0 L1281.0 484.0 L1286.0 478.0 L1292.0 475.0 L1299.0 472.4 L1304.0 467.0 L1310.0 461.0 L1316.0 456.0 L1321.0 450.0 L1326.0 445.0 L1332.0 441.0 L1335.0 435.0 L1340.0 430.0 L1345.0 424.0 L1348.0 420.0 L1353.0 418.0 L1360.0 413.0 L1366.0 410.0 L1371.0 405.0 L1372.4 398.0 L1374.0 391.0 L1378.0 386.0 L1378.0 380.0 L1381.0 375.0 L1386.0 372.0 L1386.0 367.0 L1386.0 359.0 L1390.0 356.0 L1396.0 358.0 L1403.0 356.0 L1407.0 353.0 L1412.0 351.0 L1418.0 351.0 L1423.0 346.0 L1424.0 340.0 L1428.0 337.6 L1434.0 334.0 L1440.0 328.0 L1446.0 328.0 L1451.0 322.0 L1456.0 316.0 L1460.0 310.0 L1461.0 302.0 L1465.0 303.0 L1469.0 299.0 L1470.0 292.0 L1468.0 286.0 L1473.0 281.0 L1480.0 278.0 L1484.0 272.0 L1490.0 268.4 L1495.0 268.0 L1500.0 267.0 L1501.0 261.0 L1506.0 255.0 L1511.0 248.4 L1518.0 244.4 L1525.0 245.6 L1531.0 240.4 L1536.0 237.0 L1542.0 234.0 L1545.0 228.0 L1543.0 222.4 L1546.0 219.6 L1549.0 223.0 L1554.0 222.4 L1558.0 217.0 L1563.0 211.0 L1566.0 205.0 L1573.0 200.0 L1580.0 197.0 Z" fill="none" stroke="#000" stroke-width="4.3" stroke-linejoin="round" shape-rendering="crispEdges"/>
<rect x="1444.5" y="775.5" width="7.5" height="8.5" fill="#000"/>
<rect x="879.5" y="1244" width="6" height="6" fill="#000"/>
<rect x="550.5" y="1207" width="7" height="6.5" fill="#000"/>
<rect x="233.1" y="113.2" width="1650.85" height="1328.45" fill="none" stroke="#000" stroke-width="5.7" stroke-linejoin="round"/>
<g stroke="#000" stroke-width="5.4" stroke-linecap="round">
<line x1="323.0" y1="94.4" x2="323.0" y2="113"/>
<line x1="618.1" y1="94.4" x2="618.1" y2="113"/>
<line x1="915.2" y1="94.4" x2="915.2" y2="113"/>
<line x1="1212.4" y1="94.4" x2="1212.4" y2="113"/>
<line x1="1510.0" y1="94.4" x2="1510.0" y2="113"/>
<line x1="1810.4" y1="94.4" x2="1810.4" y2="113"/>
<line x1="368.2" y1="1442" x2="368.2" y2="1463"/>
<line x1="670.0" y1="1442" x2="670.0" y2="1463"/>
<line x1="973.2" y1="1442" x2="973.2" y2="1463"/>
<line x1="1277.2" y1="1442" x2="1277.2" y2="1463"/>
<line x1="1581.9" y1="1442" x2="1581.9" y2="1463"/>
<line x1="212" y1="399.0" x2="233" y2="399.0"/>
<line x1="212" y1="763.8" x2="233" y2="763.8"/>
<line x1="212" y1="1127.8" x2="233" y2="1127.8"/>
<line x1="1884" y1="236.6" x2="1905.2" y2="236.6"/>
<line x1="1884" y1="605.9" x2="1905.2" y2="605.9"/>
<line x1="1884" y1="973.7" x2="1905.2" y2="973.7"/>
<line x1="1884" y1="1342.6" x2="1905.2" y2="1342.6"/>
</g>
<g font-size="34.3">
<text transform="translate(322.2,80.6) scale(0.962,1)" text-anchor="middle">32°30'0&quot;E</text>
<text transform="translate(617.3,80.6) scale(0.962,1)" text-anchor="middle">33°0'0&quot;E</text>
<text transform="translate(914.4,80.6) scale(0.962,1)" text-anchor="middle">33°30'0&quot;E</text>
<text transform="translate(1211.6,80.6) scale(0.962,1)" text-anchor="middle">34°0'0&quot;E</text>
<text transform="translate(1509.2,80.6) scale(0.962,1)" text-anchor="middle">34°30'0&quot;E</text>
<text transform="translate(1809.6,80.6) scale(0.962,1)" text-anchor="middle">35°0'0&quot;E</text>
<text transform="translate(367.4,1498) scale(0.962,1)" text-anchor="middle">32°0'0&quot;E</text>
<text transform="translate(669.2,1498) scale(0.962,1)" text-anchor="middle">32°30'0&quot;E</text>
<text transform="translate(972.4,1498) scale(0.962,1)" text-anchor="middle">33°0'0&quot;E</text>
<text transform="translate(1276.4,1498) scale(0.962,1)" text-anchor="middle">33°30'0&quot;E</text>
<text transform="translate(1581.1,1498) scale(0.962,1)" text-anchor="middle">34°0'0&quot;E</text>
<text transform="translate(208,411.9) scale(0.962,1)" text-anchor="end">36°0'0&quot;N</text>
<text transform="translate(208,776.7) scale(0.962,1)" text-anchor="end">35°30'0&quot;N</text>
<text transform="translate(208,1140.7) scale(0.962,1)" text-anchor="end">35°0'0&quot;N</text>
<text transform="translate(1909.5,249.5) scale(0.962,1)">35°30'0&quot;N</text>
<text transform="translate(1909.5,618.8) scale(0.962,1)">35°0'0&quot;N</text>
<text transform="translate(1909.5,986.6) scale(0.962,1)">34°30'0&quot;N</text>
<text transform="translate(1909.5,1355.5) scale(0.962,1)">34°0'0&quot;N</text>
</g>
<polygon points="1081.2,684.7 1067.0,708.9 1095.4,708.9" fill="#000"/>
<polygon points="888.0,842.8 873.8,867.0 902.2,867.0" fill="#000"/>
<polygon points="1201.1,869.7 1186.9,893.9 1215.3,893.9" fill="#000"/>
<polygon points="909.7,1146.5 895.5,1170.7 923.9,1170.7" fill="#000"/>
<polygon points="564.8,1186.0 550.6,1210.2 579.0,1210.2" fill="#000"/>
<g class="b" font-size="42">
<text transform="translate(1094.5,672.6) scale(0.935,1)">NI</text>
<text transform="translate(900.5,830.7) scale(0.935,1)">AGM</text>
<text transform="translate(1212.5,857.8) scale(0.935,1)">LA</text>
<text transform="translate(923.0,1134.4) scale(0.935,1)">LI</text>
<text transform="translate(577.0,1173.8) scale(0.935,1)">PA</text>
</g>
<text x="1828.5" y="413" font-size="44.6" text-anchor="middle">N</text>
<polygon points="1828,421.5 1797.3,524.7 1828,488.2" fill="#000"/>
<path d="M1827.4 421.5 L1858.7 524.7 L1827.4 488.2 Z M1829.3 435.5 L1851.2 511 L1829.3 486 Z" fill="#000" fill-rule="evenodd"/>
<rect x="1550.1" y="1399.9" width="256.9" height="16" rx="1.5" fill="#000"/>
<rect x="1569.9" y="1403.9" width="12.0" height="8.2" fill="#007dff"/>
<rect x="1601.2" y="1403.9" width="12.0" height="8.2" fill="#007dff"/>
<rect x="1681.2" y="1403.9" width="58.8" height="8.2" fill="#007dff"/>
<g font-size="28.3" text-anchor="middle">
<text transform="translate(1551.8,1388.1) scale(0.954,1)">0</text>
<text transform="translate(1583.5,1388.1) scale(0.954,1)">5</text>
<text transform="translate(1615.8,1388.1) scale(0.954,1)">10</text>
<text transform="translate(1678.8,1388.1) scale(0.954,1)">20</text>
<text transform="translate(1741.6,1388.1) scale(0.954,1)">30</text>
<text transform="translate(1804.2,1388.1) scale(0.954,1)">40</text>
</g>
<text x="1818" y="1413.8" font-size="28">km</text>
</svg></body></html>
